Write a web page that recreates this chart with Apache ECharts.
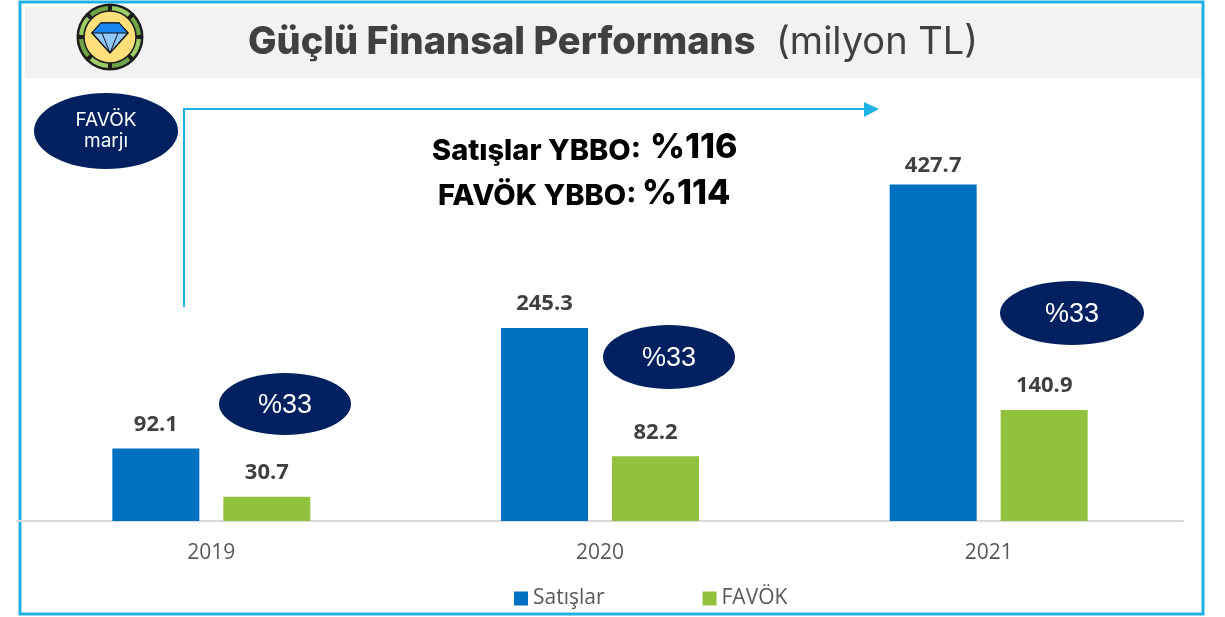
<!DOCTYPE html>
<html>
<head>
<meta charset="utf-8">
<style>
  html, body { margin: 0; padding: 0; background: #fff; }
  #chart { width: 1225px; height: 617px; }
</style>
<script src="https://cdn.jsdelivr.net/npm/echarts@6/dist/echarts.min.js"></script>
</head>
<body>
<div id="chart"></div>
<script>
var years = ['2019', '2020', '2021'];
var satislar = [92.1, 245.3, 427.7];
var favok = [30.7, 82.2, 140.9];
var marjLabels = ['%33', '%33', '%33'];

var navy = '#002060';
var cyan = '#1fb0e6';
var labelFont = '"Open Sans"';
var headFont = 'Inter';

// icon ring: eight green segments, light and dark in turn
var ring = [];
for (var i = 0; i < 8; i++) {
  ring.push({
    type: 'sector',
    shape: {
      cx: 110, cy: 37, r: 31, r0: 26,
      startAngle: (i * 45 + 4) * Math.PI / 180,
      endAngle: (i * 45 + 41) * Math.PI / 180
    },
    style: { fill: i % 2 ? '#6fa544' : '#9ccc65' }
  });
}

function ellipse(cx, cy, rx, ry) {
  return { type: 'ellipse', shape: { cx: cx, cy: cy, rx: rx, ry: ry }, style: { fill: navy }, z: 5 };
}
function whiteText(text, x, y, size, font) {
  return {
    type: 'text', x: x, y: y, z: 6,
    style: { text: text, fill: '#fff', font: size + 'px ' + font, textAlign: 'center', textVerticalAlign: 'middle' }
  };
}

var graphic = [
  { type: 'rect', shape: { x: 25, y: 7, width: 1178, height: 71 }, style: { fill: '#f2f2f2' } },
  { type: 'rect', shape: { x: 20, y: 2, width: 1183, height: 612 }, style: { fill: 'none', stroke: cyan, lineWidth: 3 } },

  { type: 'circle', shape: { cx: 110, cy: 37, r: 33.5 }, style: { fill: '#1c1c1c' } }
].concat(ring).concat([
  { type: 'circle', shape: { cx: 110, cy: 37, r: 26 }, style: { fill: '#ffdf7a', stroke: '#1c1c1c', lineWidth: 1.5 } },
  { type: 'polygon', shape: { points: [[92, 33], [101, 23], [119, 23], [128, 33], [110, 53]] }, style: { fill: '#8ec8ff', stroke: '#111', lineWidth: 1.5 } },
  { type: 'polygon', shape: { points: [[92, 33], [101, 23], [119, 23], [128, 33]] }, style: { fill: '#1a86f0', stroke: '#111', lineWidth: 1 } },
  { type: 'polyline', shape: { points: [[102, 33], [110, 53], [118, 33]] }, style: { fill: 'none', stroke: '#111', lineWidth: 1 } },

  { type: 'text', x: 248, y: 43, style: { text: 'Güçlü Finansal Performans', fill: '#404040', font: '800 38px ' + headFont, textVerticalAlign: 'middle' } },
  { type: 'text', x: 776, y: 43, style: { text: '(milyon TL)', fill: '#404040', font: '38px ' + headFont, textVerticalAlign: 'middle' } },

  { type: 'polyline', shape: { points: [[184, 307], [184, 109], [866, 109]] }, style: { fill: 'none', stroke: cyan, lineWidth: 2 } },
  { type: 'polygon', shape: { points: [[864, 102], [879, 109], [864, 117]] }, style: { fill: cyan } },

  ellipse(106, 131, 72, 38),
  whiteText('FAVÖK', 106, 120, 19, headFont),
  whiteText('marjı', 106, 141, 19, headFont),

  ellipse(285, 404, 66, 31),
  whiteText(marjLabels[0], 285, 406, 27, '"Liberation Sans"'),
  ellipse(669, 357, 66, 32),
  whiteText(marjLabels[1], 669, 359, 27, '"Liberation Sans"'),
  ellipse(1072, 313, 72, 32),
  whiteText(marjLabels[2], 1072, 315, 27, '"Liberation Sans"'),

  { type: 'text', x: 432, y: 151, z: 6, style: { text: 'Satışlar YBBO:', fill: '#000', font: '800 29px ' + headFont, textVerticalAlign: 'middle' } },
  { type: 'text', x: 650, y: 148, z: 6, style: { text: '%116', fill: '#000', font: '800 34px ' + headFont, textVerticalAlign: 'middle' } },
  { type: 'text', x: 438, y: 196, z: 6, style: { text: 'FAVÖK YBBO:', fill: '#000', font: '800 29px ' + headFont, textVerticalAlign: 'middle' } },
  { type: 'text', x: 642, y: 194, z: 6, style: { text: '%114', fill: '#000', font: '800 34px ' + headFont, textVerticalAlign: 'middle' } }
]);

var barLabel = {
  show: true,
  position: 'top',
  distance: 13,
  color: '#404040',
  fontFamily: labelFont,
  fontWeight: 'bold',
  fontSize: 22
};

var chart = echarts.init(document.getElementById('chart'), null, { renderer: 'canvas' });
chart.setOption({
  animation: false,
  backgroundColor: '#fff',
  graphic: graphic,
  grid: { left: 17, right: 42, top: 127.5, bottom: 96 },
  legend: {
    left: 509, top: 583,
    itemWidth: 14, itemHeight: 14, itemGap: 98,
    icon: 'rect',
    textStyle: { color: '#595959', fontFamily: labelFont, fontSize: 21 },
    data: ['Satışlar', 'FAVÖK']
  },
  xAxis: {
    type: 'category',
    data: years,
    axisTick: { show: false },
    axisLine: { lineStyle: { color: '#d9d9d9', width: 2 } },
    axisLabel: { color: '#595959', fontFamily: labelFont, fontSize: 21, margin: 22 }
  },
  yAxis: { type: 'value', min: 0, max: 500, show: false, splitLine: { show: false } },
  series: [
    {
      name: 'Satışlar', type: 'bar', barWidth: 87, barGap: '27.6%',
      itemStyle: { color: '#0070c0' },
      label: barLabel,
      data: [satislar[0], satislar[1], { value: satislar[2], label: { distance: 8 } }]
    },
    {
      name: 'FAVÖK', type: 'bar', barWidth: 87,
      itemStyle: { color: '#92c13e' },
      label: barLabel,
      data: favok
    }
  ]
});
</script>
</body>
</html>
